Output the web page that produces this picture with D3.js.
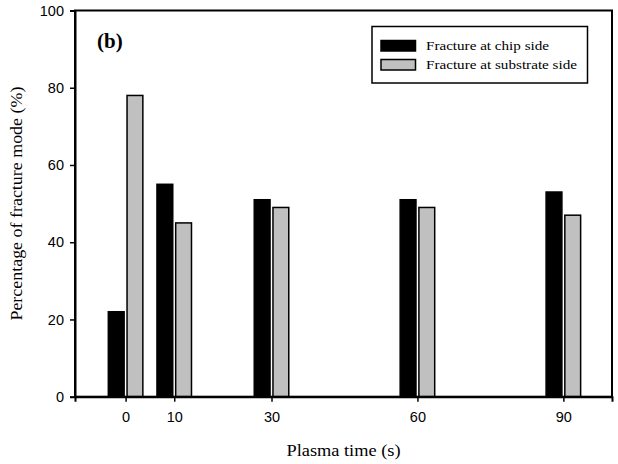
<!DOCTYPE html>
<html>
<head>
<meta charset="utf-8">
<script src="https://cdn.jsdelivr.net/npm/d3@7/dist/d3.min.js"></script>
<style>
  html, body { margin: 0; padding: 0; background: #fff; }
  svg { display: block; }
</style>
</head>
<body>
<svg id="chart" width="618" height="464"></svg>
<script>
// ---- Data ----
const plasmaTimes = [0, 10, 30, 60, 90];
const chipSide = [22, 55, 51, 51, 53];
const substrateSide = [78, 45, 49, 49, 47];
const seriesNames = ["Fracture at chip side", "Fracture at substrate side"];
const seriesColors = ["#000000", "#c0c0c0"];
const xTicks = [0, 10, 30, 60, 90];
const yTicks = [0, 20, 40, 60, 80, 100];

// ---- Layout ----
const svg = d3.select("#chart");
const pLeft = 75, pRight = 612, pTop = 10.5, pBottom = 396.7;

const x = d3.scaleLinear().domain([-10.4, 100]).range([pLeft, pRight]);
const y = d3.scaleLinear().domain([0, 100]).range([pBottom, pTop]);

const barW = 3.25;   // data units
const gap = 0.3;     // half gap in data units

const g = svg.append("g");

// bars
const series = [chipSide, substrateSide];
series.forEach((vals, si) => {
  g.selectAll(".bar" + si)
    .data(plasmaTimes.map((t, i) => ({ t, v: vals[i] })))
    .enter().append("rect")
    .attr("x", d => si === 0 ? x(d.t - gap - barW) : x(d.t + gap))
    .attr("width", x(barW) - x(0))
    .attr("y", d => y(d.v))
    .attr("height", d => y(0) - y(d.v))
    .attr("fill", seriesColors[si])
    .attr("stroke", "#000")
    .attr("stroke-width", 1.5);
});

// frame
svg.append("rect")
  .attr("x", pLeft).attr("y", pTop)
  .attr("width", pRight - pLeft).attr("height", pBottom - pTop)
  .attr("fill", "none").attr("stroke", "#000").attr("stroke-width", 2);

// axes
const xAxis = d3.axisBottom(x).tickValues(xTicks).tickSize(5).tickPadding(10).tickFormat(d3.format("d"));
const yAxis = d3.axisLeft(y).tickValues(yTicks).tickSize(5).tickPadding(6).tickFormat(d3.format("d"));

const gx = svg.append("g").attr("transform", `translate(0,${pBottom})`).call(xAxis);
const gy = svg.append("g").attr("transform", `translate(${pLeft},0)`).call(yAxis);
[gx, gy].forEach(a => {
  a.select(".domain").attr("stroke", "#000").attr("stroke-width", 2);
  a.selectAll(".tick line").attr("stroke", "#000").attr("stroke-width", 1.5);
  a.selectAll(".tick text")
    .attr("fill", "#000")
    .style("font-family", "Liberation Sans, Arial, sans-serif")
    .style("font-size", "14.5px");
});

// axis titles
svg.append("text")
  .attr("x", (pLeft + pRight) / 2).attr("y", 456)
  .attr("text-anchor", "middle")
  .attr("textLength", 114).attr("lengthAdjust", "spacingAndGlyphs")
  .style("font-family", "Liberation Serif, Times New Roman, serif")
  .style("font-size", "16px")
  .text("Plasma time (s)");

svg.append("text")
  .attr("transform", `translate(22,${(pTop + pBottom) / 2}) rotate(-90)`)
  .attr("text-anchor", "middle")
  .attr("textLength", 234).attr("lengthAdjust", "spacingAndGlyphs")
  .style("font-family", "Liberation Serif, Times New Roman, serif")
  .style("font-size", "16px")
  .text("Percentage of fracture mode (%)");

// panel label
svg.append("text")
  .attr("x", 97).attr("y", 48)
  .style("font-family", "Liberation Serif, Times New Roman, serif")
  .style("font-size", "21px")
  .style("font-weight", "bold")
  .text("(b)");

// legend
const legendWidths = [123, 151];
const lg = svg.append("g");
lg.append("rect")
  .attr("x", 372).attr("y", 26.5).attr("width", 215.5).attr("height", 56.5)
  .attr("fill", "#fff").attr("stroke", "#000").attr("stroke-width", 1.5);
seriesNames.forEach((name, i) => {
  const yy = 40.5 + i * 19;
  lg.append("rect")
    .attr("x", 381).attr("y", yy).attr("width", 34.5).attr("height", 10.5)
    .attr("fill", seriesColors[i]).attr("stroke", "#000").attr("stroke-width", 1.5);
  lg.append("text")
    .attr("x", 426).attr("y", yy + 9)
    .attr("textLength", legendWidths[i]).attr("lengthAdjust", "spacingAndGlyphs")
    .style("font-family", "Liberation Serif, Times New Roman, serif")
    .style("font-size", "13.5px")
    .text(name);
});
</script>
</body>
</html>
